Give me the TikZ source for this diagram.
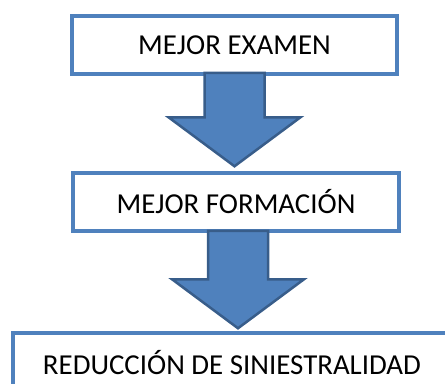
\documentclass[tikz,border=0pt]{standalone}
\usepackage{fontspec}
\setmainfont{Carlito}
\usepackage{tikz}
\usetikzlibrary{calc}
\definecolor{boxblue}{HTML}{4F81BD}
\definecolor{arrowedge}{HTML}{385D8A}

\providecommand{\BlockArrow}[2]{%
  \coordinate (top) at (#1);
  \coordinate (end) at (#2);
  \coordinate (tip) at (top |- end);
  \coordinate (neck) at ($ (tip)+(0,-\head) $);
  \filldraw[fill=boxblue, draw=arrowedge, line width=2.5bp, line join=miter]
    ($ (top)+(-\shaft,0) $) -- ($ (neck)+(-\shaft,0) $)
    -- ($ (neck)+(-\wing,0) $) -- (tip) -- ($ (neck)+(\wing,0) $)
    -- ($ (neck)+(\shaft,0) $) -- ($ (top)+(\shaft,0) $) -- cycle;
}

\begin{document}
\begin{tikzpicture}[x=1bp, y=-1bp]
	\tikzset{stage/.style={draw=boxblue, line width=3.5bp, fill=white, inner sep=0,
		minimum height=58bp, font=\fontsize{29}{34}\selectfont}}
	\def\shaft{30}
	\def\wing{66}
	\def\head{49}

	\useasboundingbox (0,0) rectangle (445,383);

	\node[stage, minimum width=325bp] (exam) at (234.5,45) {MEJOR EXAMEN};
	\node[stage, minimum width=326bp] (form) at (236,202) {MEJOR FORMACIÓN};
	\node[stage, minimum width=438bp, minimum height=60bp] (redu) at (232,363) {REDUCCIÓN DE SINIESTRALIDAD};

	% block arrows between the stages
	\BlockArrow{$ (exam.south)+(0,-3) $}{$ (form.north)+(0,-5) $}
	\BlockArrow{$ (form.south)+(2,-2) $}{$ (redu.north)+(0,-3) $}

\end{tikzpicture}
\end{document}
